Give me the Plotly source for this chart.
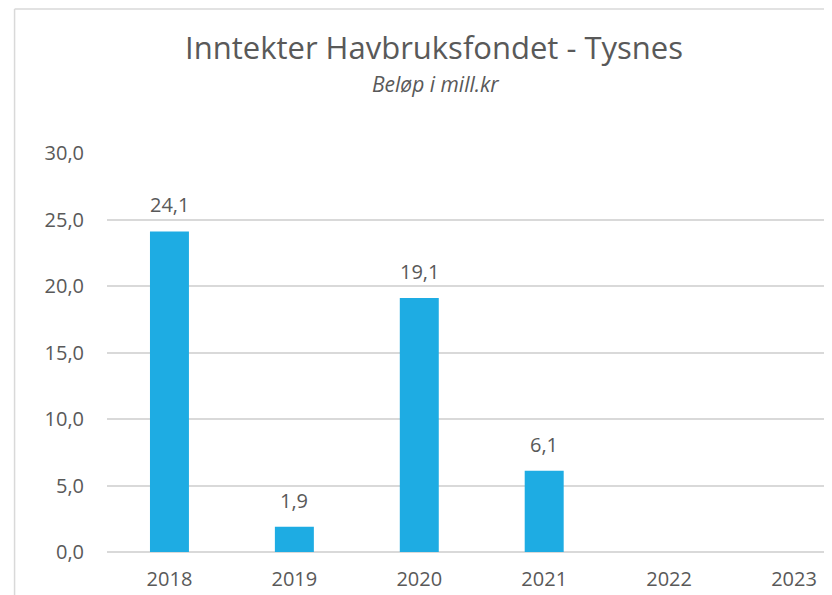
import plotly.graph_objects as go

years = ["2018", "2019", "2020", "2021", "2022", "2023"]
values = [24.1, 1.9, 19.1, 6.1, None, None]
y_ticks = [0, 5, 10, 15, 20, 25, 30]

title_text = "Inntekter Havbruksfondet - Tysnes"
subtitle_text = "Beløp i mill.kr"

FONT = "Open Sans"
GRAY = "#595959"
BAR = "#1EACE3"

# the page has an 8px body margin; compensate so the picture lines up
OFF = 8
W, H = 832 - OFF, 595 - OFF
L, R, T, B = 106.5 - OFF, 0, 153 - OFF, 43
pw = W - L - R
ph = H - T - B

fig = go.Figure()
fig.add_trace(go.Bar(
    x=years, y=values, marker=dict(color=BAR, line=dict(width=0)),
    hoverinfo="x+y",
))

for i, (yr, v) in enumerate(zip(years, values)):
    if v is None:
        continue
    fig.add_annotation(
        x=i, y=v, xref="x", yref="y",
        text=f"{v:.1f}".replace(".", ","),
        showarrow=False, yanchor="bottom", yshift=11,
        font=dict(family=FONT, size=20, color=GRAY),
    )

def px_x(p):
    return (p - OFF - L) / pw

def px_y(p):
    return (H - B - (p - OFF)) / ph

fig.add_annotation(
    x=px_x(434), y=px_y(47), xref="paper", yref="paper",
    text=title_text, showarrow=False, xanchor="center", yanchor="middle",
    font=dict(family=FONT, size=31, color=GRAY),
)
fig.add_annotation(
    x=px_x(435), y=px_y(84), xref="paper", yref="paper",
    text=f"<i>{subtitle_text}</i>", showarrow=False, xanchor="center", yanchor="middle",
    font=dict(family=FONT, size=21, color=GRAY),
)

# chart border (partially visible)
fig.add_shape(type="line", xref="paper", yref="paper",
              x0=px_x(14), x1=px_x(900), y0=px_y(9), y1=px_y(9),
              line=dict(color="#d9d9d9", width=1.5))
fig.add_shape(type="line", xref="paper", yref="paper",
              x0=px_x(14), x1=px_x(14), y0=px_y(9), y1=px_y(700),
              line=dict(color="#d9d9d9", width=1.5))

fig.update_layout(
    width=W, height=H,
    margin=dict(l=L, r=R, t=T, b=B, pad=0),
    paper_bgcolor="white", plot_bgcolor="white",
    separators=", ",
    showlegend=False,
    bargap=0.688,
    font=dict(family=FONT, color=GRAY),
    xaxis=dict(
        type="category", range=[-0.5, -0.5 + pw / 125.0],
        showgrid=False, showline=False, ticks="",
        tickfont=dict(family=FONT, size=20, color=GRAY),
        ticklabelstandoff=13,
    ),
    yaxis=dict(
        range=[0, 30], tickvals=y_ticks, tickformat=".1f",
        showgrid=True, gridcolor="#d9d9d9", gridwidth=1.5,
        zeroline=True, zerolinecolor="#d9d9d9", zerolinewidth=1.5,
        showline=False, ticks="",
        tickfont=dict(family=FONT, size=20, color=GRAY),
        ticklabelstandoff=22,
    ),
)

fig.write_html("out.html")
